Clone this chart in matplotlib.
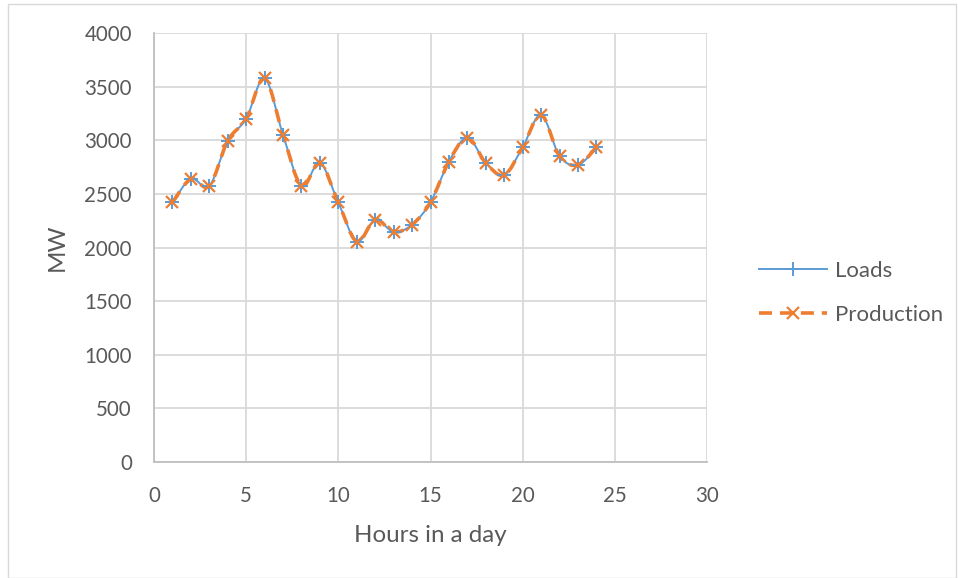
import matplotlib
matplotlib.use("Agg")
import matplotlib.pyplot as plt
from matplotlib.path import Path
from matplotlib.patches import PathPatch, Rectangle
from matplotlib.lines import Line2D
import numpy as np

hours = list(range(1, 25))
loads = [2420, 2640, 2573, 2995, 3200, 3578, 3050, 2573, 2790, 2420,
         2055, 2260, 2145, 2213, 2422, 2800, 3025, 2788, 2676, 2934,
         3238, 2853, 2769, 2934]
production = list(loads)

BLUE = "#5B9BD5"
ORANGE = "#ED7D31"
TXT = "#595959"

plt.rcParams['font.family'] = ['Lato', 'DejaVu Sans']

fig = plt.figure(figsize=(9.58, 5.78), dpi=100)
ax = fig.add_axes([154/958, 1-462/578, (707-154)/958, (462-33)/578])

def smooth_path(xs, ys):
    pts = np.column_stack([xs, ys]).astype(float)
    n = len(pts)
    verts = [pts[0]]
    codes = [Path.MOVETO]
    for i in range(n - 1):
        p0 = pts[i - 1] if i > 0 else pts[i]
        p1 = pts[i]
        p2 = pts[i + 1]
        p3 = pts[i + 2] if i + 2 < n else pts[i + 1]
        c1 = p1 + (p2 - p0) / 6.0
        c2 = p2 - (p3 - p1) / 6.0
        verts += [c1, c2, p2]
        codes += [Path.CURVE4] * 3
    return Path(verts, codes)

DASH = (0, (3.6, 2.2))
ax.add_patch(PathPatch(smooth_path(hours, loads), fill=False, edgecolor=BLUE,
                       lw=1.4, zorder=3))
ax.add_patch(PathPatch(smooth_path(hours, production), fill=False, edgecolor=ORANGE,
                       lw=2.6, linestyle=DASH, zorder=4))
ax.plot(hours, loads, linestyle='none', marker='+', ms=10, mew=1.4,
        color=BLUE, zorder=5)
ax.plot(hours, production, linestyle='none', marker='x', ms=8.5, mew=1.6,
        color=ORANGE, zorder=6)

ax.set_xlim(0, 30)
ax.set_ylim(0, 4000)
ax.set_xticks(range(0, 31, 5))
ax.set_yticks(range(0, 4001, 500))
ax.grid(True, color="#D9D9D9", lw=1.3)
ax.set_axisbelow(True)
for s in ['top', 'right']:
    ax.spines[s].set_visible(False)
for s in ['left', 'bottom']:
    ax.spines[s].set_color("#BFBFBF")
    ax.spines[s].set_linewidth(1.3)
ax.tick_params(length=0, labelsize=14.8, labelcolor=TXT)
ax.tick_params(axis='y', pad=16)
ax.tick_params(axis='x', pad=17)
ax.set_xlabel("Hours in a day", fontsize=17.4, color=TXT, labelpad=14)
ax.set_ylabel("MW", fontsize=17.4, color=TXT, labelpad=12)

h1 = Line2D([], [], color=BLUE, lw=1.4, marker='+', ms=10, mew=1.4)
h2 = Line2D([], [], color=ORANGE, lw=2.6, linestyle=DASH,
            marker='x', ms=8.5, mew=1.6)
fig.legend([h1, h2], ["Loads", "Production"], loc='center left',
           bbox_to_anchor=(759/958, 1-293/578), frameon=False,
           borderpad=0, borderaxespad=0,
           fontsize=16, labelcolor=TXT, handlelength=3.05, labelspacing=1.1,
           handletextpad=0.36)

fig.add_artist(Rectangle((8/958, 0), 1 - 8/958 - 2/958, 1 - 4/578,
                         transform=fig.transFigure, fill=False,
                         edgecolor="#D9D9D9", lw=1.0))

fig.savefig("out.png", dpi=100)
